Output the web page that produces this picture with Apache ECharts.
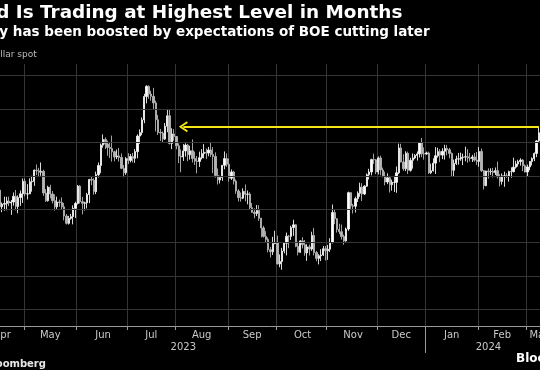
<!DOCTYPE html>
<html><head><meta charset="utf-8">
<script src="https://cdn.jsdelivr.net/npm/echarts@6/dist/echarts.min.js"></script>
<style>html,body{margin:0;padding:0;background:#000;}#c{width:540px;height:370px;}</style>
</head><body><div id="c"></div>
<script>
// ---- data: GBP/USD daily, weekdays from 2023-04-14 to 2024-03-08 ----
const firstDate = '2023-04-14';
const lastDate = '2024-03-08';
const opens = [
1.2514,1.2414,1.2430,1.2434,1.2449,1.2437,1.2443,1.2477,1.2416,1.2470,1.2492,
1.2567,1.2491,1.2492,1.2564,1.2567,1.2634,1.2630,1.2621,1.2627,1.2497,1.2451,1.2532,1.2491,1.2451,1.2414,1.2443,1.2440,1.2414,1.2359,1.2315,1.2345,1.2355,1.2405,
1.2434,1.2538,1.2445,1.2435,1.2438,1.2488,1.2578,1.2574,1.2505,1.2607,1.2662,1.2784,1.2818,1.2790,1.2770,1.2763,1.2744,1.2713,1.2719,1.2710,1.2645,1.2618,
1.2703,1.2692,1.2715,1.2705,1.2745,1.2838,1.2859,1.2935,1.3075,1.3136,1.3090,1.3076,1.3037,1.2936,1.2860,1.2856,1.2820,1.2897,1.2960,1.2794,1.2851,
1.2835,1.2780,1.2718,1.2713,1.2749,1.2784,1.2726,1.2750,1.2703,1.2688,1.2686,1.2708,1.2733,1.2741,1.2736,1.2755,1.2728,1.2716,1.2602,1.2575,1.2590,1.2663,1.2703,
1.2669,1.2586,1.2623,1.2568,1.2509,1.2469,1.2466,1.2507,1.2489,1.2491,1.2409,1.2382,1.2374,1.2392,1.2345,1.2288,1.2237,1.2219,1.2157,1.2145,1.2194,
1.2199,1.2072,1.2087,1.2149,1.2196,1.2238,1.2237,1.2290,1.2306,1.2178,1.2142,1.2210,1.2187,1.2138,1.2174,1.2161,1.2243,1.2140,1.2105,1.2121,1.2125,1.2163,
1.2151,1.2160,1.2200,1.2380,1.2343,1.2279,1.2265,1.2236,1.2210,1.2281,1.2499,1.2420,1.2418,1.2463,1.2495,1.2532,1.2491,1.2538,1.2606,1.2623,1.2697,1.2696,
1.2623,1.2707,1.2635,1.2598,1.2563,1.2588,1.2547,1.2561,1.2561,1.2618,1.2767,1.2683,1.2642,1.2735,1.2633,1.2693,1.2707,1.2722,1.2731,1.2798,1.2732,
1.2731,1.2737,1.2618,1.2630,1.2676,1.2720,1.2745,1.2724,1.2747,1.2764,1.2756,1.2734,1.2633,1.2674,1.2700,1.2702,1.2711,1.2712,1.2714,1.2707,1.2704,1.2713,1.2694,
1.2686,1.2746,1.2631,1.2541,1.2629,1.2624,1.2626,1.2620,1.2631,1.2595,1.2566,1.2600,1.2600,1.2599,1.2625,1.2625,1.2652,1.2671,1.2685,1.2694,1.2660,
1.2623,1.2653,1.2686,1.2703,1.2734,1.2809
];
const highs = [
1.2546,1.2440,1.2475,1.2474,1.2475,1.2455,1.2500,1.2515,1.2483,1.2512,1.2584,
1.2584,1.2550,1.2585,1.2600,1.2638,1.2668,1.2648,1.2680,1.2637,1.2520,1.2540,1.2546,1.2509,1.2488,1.2475,1.2457,1.2471,1.2438,1.2371,1.2360,1.2372,1.2423,1.2444,
1.2545,1.2544,1.2474,1.2445,1.2498,1.2582,1.2597,1.2585,1.2625,1.2680,1.2793,1.2848,1.2830,1.2810,1.2802,1.2841,1.2750,1.2757,1.2767,1.2734,1.2665,1.2712,
1.2735,1.2731,1.2737,1.2760,1.2848,1.2878,1.2950,1.3091,1.3143,1.3142,1.3110,1.3127,1.3050,1.2965,1.2880,1.2866,1.2916,1.2996,1.2997,1.2885,1.2880,
1.2838,1.2795,1.2758,1.2790,1.2795,1.2791,1.2780,1.2818,1.2745,1.2718,1.2745,1.2760,1.2790,1.2763,1.2773,1.2800,1.2772,1.2740,1.2644,1.2600,1.2664,1.2746,1.2734,
1.2704,1.2638,1.2630,1.2578,1.2520,1.2500,1.2525,1.2548,1.2512,1.2502,1.2437,1.2405,1.2425,1.2424,1.2349,1.2300,1.2268,1.2231,1.2174,1.2234,1.2271,
1.2241,1.2129,1.2168,1.2203,1.2260,1.2245,1.2301,1.2337,1.2311,1.2205,1.2215,1.2233,1.2215,1.2190,1.2188,1.2265,1.2288,1.2150,1.2130,1.2160,1.2180,1.2179,
1.2186,1.2226,1.2428,1.2396,1.2346,1.2313,1.2308,1.2247,1.2290,1.2505,1.2502,1.2432,1.2475,1.2507,1.2559,1.2556,1.2544,1.2614,1.2642,1.2702,1.2733,1.2700,
1.2716,1.2721,1.2649,1.2625,1.2615,1.2600,1.2577,1.2600,1.2656,1.2793,1.2792,1.2729,1.2747,1.2745,1.2708,1.2734,1.2730,1.2746,1.2802,1.2827,1.2770,
1.2745,1.2745,1.2673,1.2705,1.2772,1.2768,1.2760,1.2765,1.2786,1.2785,1.2767,1.2740,1.2697,1.2720,1.2737,1.2739,1.2733,1.2775,1.2760,1.2737,1.2725,1.2736,1.2743,
1.2772,1.2763,1.2635,1.2630,1.2645,1.2645,1.2647,1.2650,1.2685,1.2610,1.2614,1.2625,1.2616,1.2631,1.2651,1.2709,1.2690,1.2696,1.2705,1.2700,1.2668,
1.2667,1.2687,1.2710,1.2740,1.2814,1.2894
];
const lows = [
1.2402,1.2382,1.2391,1.2393,1.2418,1.2366,1.2421,1.2393,1.2375,1.2420,1.2437,
1.2477,1.2458,1.2490,1.2505,1.2540,1.2604,1.2593,1.2600,1.2480,1.2444,1.2445,1.2465,1.2435,1.2392,1.2400,1.2414,1.2398,1.2333,1.2308,1.2308,1.2337,1.2309,1.2347,
1.2428,1.2434,1.2369,1.2392,1.2404,1.2436,1.2544,1.2487,1.2490,1.2590,1.2616,1.2768,1.2760,1.2720,1.2707,1.2685,1.2687,1.2700,1.2685,1.2640,1.2591,1.2606,
1.2670,1.2680,1.2680,1.2678,1.2705,1.2791,1.2843,1.2915,1.3034,1.3061,1.3050,1.3001,1.2866,1.2845,1.2809,1.2797,1.2815,1.2861,1.2788,1.2760,1.2810,
1.2759,1.2676,1.2621,1.2689,1.2715,1.2688,1.2697,1.2680,1.2665,1.2615,1.2653,1.2698,1.2705,1.2700,1.2717,1.2713,1.2616,1.2589,1.2548,1.2554,1.2570,1.2639,1.2653,
1.2565,1.2575,1.2548,1.2492,1.2446,1.2445,1.2460,1.2447,1.2429,1.2400,1.2378,1.2346,1.2359,1.2330,1.2231,1.2230,1.2199,1.2141,1.2110,1.2125,1.2190,
1.2069,1.2052,1.2037,1.2136,1.2123,1.2166,1.2215,1.2240,1.2172,1.2123,1.2138,1.2165,1.2121,1.2090,1.2122,1.2150,1.2123,1.2088,1.2069,1.2089,1.2120,1.2093,
1.2096,1.2143,1.2195,1.2310,1.2260,1.2250,1.2218,1.2187,1.2205,1.2270,1.2402,1.2374,1.2380,1.2443,1.2474,1.2449,1.2485,1.2534,1.2578,1.2603,1.2671,1.2610,
1.2608,1.2603,1.2590,1.2543,1.2550,1.2500,1.2511,1.2503,1.2498,1.2610,1.2680,1.2630,1.2628,1.2611,1.2625,1.2643,1.2700,1.2691,1.2710,1.2712,1.2697,
1.2726,1.2611,1.2611,1.2626,1.2611,1.2709,1.2682,1.2700,1.2697,1.2723,1.2705,1.2596,1.2597,1.2665,1.2667,1.2690,1.2664,1.2687,1.2678,1.2685,1.2683,1.2685,1.2665,
1.2654,1.2622,1.2518,1.2538,1.2583,1.2605,1.2590,1.2605,1.2584,1.2536,1.2547,1.2534,1.2588,1.2565,1.2588,1.2620,1.2643,1.2655,1.2661,1.2628,1.2620,
1.2595,1.2633,1.2662,1.2688,1.2712,1.2800
];
const closes = [
1.2414,1.2430,1.2434,1.2449,1.2437,1.2443,1.2477,1.2416,1.2470,1.2492,1.2567,
1.2491,1.2492,1.2564,1.2567,1.2634,1.2630,1.2621,1.2627,1.2497,1.2451,1.2532,1.2491,1.2451,1.2414,1.2443,1.2440,1.2414,1.2359,1.2315,1.2345,1.2355,1.2405,1.2434,
1.2538,1.2445,1.2435,1.2438,1.2488,1.2578,1.2574,1.2505,1.2607,1.2662,1.2784,1.2818,1.2790,1.2770,1.2763,1.2744,1.2713,1.2719,1.2710,1.2645,1.2618,1.2703,
1.2692,1.2715,1.2705,1.2745,1.2838,1.2859,1.2935,1.3075,1.3136,1.3090,1.3076,1.3037,1.2936,1.2860,1.2856,1.2820,1.2897,1.2960,1.2794,1.2851,1.2835,
1.2780,1.2718,1.2713,1.2749,1.2784,1.2726,1.2750,1.2703,1.2688,1.2686,1.2708,1.2733,1.2741,1.2736,1.2755,1.2728,1.2716,1.2602,1.2575,1.2590,1.2663,1.2703,1.2669,
1.2586,1.2623,1.2568,1.2509,1.2469,1.2466,1.2507,1.2489,1.2491,1.2409,1.2382,1.2374,1.2392,1.2345,1.2288,1.2237,1.2219,1.2157,1.2145,1.2194,1.2199,
1.2072,1.2087,1.2149,1.2196,1.2238,1.2237,1.2290,1.2306,1.2178,1.2142,1.2210,1.2187,1.2138,1.2174,1.2161,1.2243,1.2140,1.2105,1.2121,1.2125,1.2163,1.2151,
1.2160,1.2200,1.2380,1.2343,1.2279,1.2265,1.2236,1.2210,1.2281,1.2499,1.2420,1.2418,1.2463,1.2495,1.2532,1.2491,1.2538,1.2606,1.2623,1.2697,1.2696,1.2623,
1.2707,1.2635,1.2598,1.2563,1.2588,1.2547,1.2561,1.2561,1.2618,1.2767,1.2683,1.2642,1.2735,1.2633,1.2693,1.2707,1.2722,1.2731,1.2798,1.2732,1.2731,
1.2737,1.2618,1.2630,1.2676,1.2720,1.2745,1.2724,1.2747,1.2764,1.2756,1.2734,1.2633,1.2674,1.2700,1.2702,1.2711,1.2712,1.2714,1.2707,1.2704,1.2713,1.2694,1.2686,
1.2746,1.2631,1.2541,1.2629,1.2624,1.2626,1.2620,1.2631,1.2595,1.2566,1.2600,1.2600,1.2599,1.2625,1.2625,1.2652,1.2671,1.2685,1.2694,1.2660,1.2623,
1.2653,1.2686,1.2703,1.2734,1.2809,1.2858
];
const gridLevels = [1.18, 1.20, 1.22, 1.24, 1.26, 1.28, 1.30, 1.32];
const monthNames = ['Jan','Feb','Mar','Apr','May','Jun','Jul','Aug','Sep','Oct','Nov','Dec'];
const yearLabelText = {'2023-08-04': '2023', '2024-02-07': '2024'};
const arrowFromDate = '2023-08-04';

// ---- helpers ----
function weekdays(a, b) {
  const out = [];
  let t = Date.parse(a + 'T00:00:00Z');
  const e = Date.parse(b + 'T00:00:00Z');
  while (t <= e) {
    const d = new Date(t);
    const w = d.getUTCDay();
    if (w !== 0 && w !== 6) out.push(d.toISOString().slice(0, 10));
    t += 86400000;
  }
  return out;
}
const dates = weekdays(firstDate, lastDate);
const monthStart = new Set();
const yearStart = new Set([0]);
dates.forEach((d, i) => {
  if (i > 0 && d.slice(0, 7) !== dates[i - 1].slice(0, 7)) monthStart.add(i);
  if (i > 0 && d.slice(0, 4) !== dates[i - 1].slice(0, 4)) yearStart.add(i);
});
// month label: middle weekday of the calendar month (clamped into data)
const labelIdx = new Set();
const seen = {};
dates.forEach((d, i) => {
  const ym = d.slice(0, 7);
  if (seen[ym]) return;
  seen[ym] = true;
  const y = +ym.slice(0, 4), m = +ym.slice(5, 7);
  const lastDay = new Date(Date.UTC(y, m, 0)).getUTCDate();
  const all = weekdays(ym + '-01', ym + '-' + String(lastDay).padStart(2, '0'));
  const mid = all[Math.round((all.length - 1) / 2)];
  let idx = dates.indexOf(mid);
  if (idx < 0) {
    const inMonth = dates.map((x, j) => x.slice(0, 7) === ym ? j : -1).filter(j => j >= 0);
    idx = mid > lastDate ? inMonth[inMonth.length - 1] : inMonth[0];
  }
  labelIdx.add(idx);
});
const candles = dates.map((d, i) => [opens[i], closes[i], lows[i], highs[i]]);
const arrowLevel = highs[highs.length - 1];

const chart = echarts.init(document.getElementById('c'), null, {renderer: 'canvas'});
const axisGray = '#9a9a9a';
const labelGray = '#c9c9c9';
const gridGray = '#363636';
chart.setOption({
  backgroundColor: '#000',
  animation: false,
  grid: {left: -1.3, right: 0, top: 64, bottom: 44, containLabel: false, outerBoundsMode: 'none'},
  xAxis: [{
    type: 'category', data: dates, boundaryGap: true,
    axisLine: {show: true, lineStyle: {color: axisGray, width: 1}},
    axisTick: {show: true, length: 4, interval: (i) => monthStart.has(i), lineStyle: {color: axisGray}},
    axisLabel: {show: true, interval: (i) => labelIdx.has(i), margin: 4,
      formatter: (v) => monthNames[+v.slice(5, 7) - 1],
      color: labelGray, fontSize: 10, fontFamily: 'DejaVu Sans'},
    splitLine: {show: true, interval: (i) => monthStart.has(i), lineStyle: {color: gridGray, width: 1}}
  }, {
    type: 'category', data: dates, boundaryGap: true, position: 'bottom', offset: 0,
    axisLine: {show: false},
    axisTick: {show: true, length: 27, interval: (i) => yearStart.has(i), lineStyle: {color: axisGray}},
    axisLabel: {show: true, interval: (i) => !!yearLabelText[dates[i]], margin: 16,
      formatter: (v) => yearLabelText[v] || '',
      color: labelGray, fontSize: 10, fontFamily: 'DejaVu Sans'},
    splitLine: {show: false}
  }],
  yAxis: {
    type: 'value', min: 1.17, max: 1.327, position: 'right', scale: true,
    axisLine: {show: false}, axisTick: {show: false}, axisLabel: {show: false}, splitLine: {show: false}
  },
  series: [{
    type: 'line', data: [], z: 1, silent: true,
    markLine: {
      silent: true, symbol: 'none', animation: false,
      label: {show: false},
      lineStyle: {color: gridGray, width: 1, type: 'solid'},
      emphasis: {disabled: true},
      data: gridLevels.map(v => ({yAxis: v}))
    }
  }, {
    type: 'candlestick', data: candles, z: 3, barWidth: 1.8,
    itemStyle: {color: '#ffffff', color0: '#b4b4b4', borderColor: '#f0f0f0', borderColor0: '#b4b4b4', borderWidth: 0.9},
    markLine: {
      silent: true, animation: false,
      symbol: ['path://M0,9 L5,0 L10,9 L8.4,10 L5,3.4 L1.6,10 Z', 'none'],
      symbolSize: [11, 9],
      label: {show: false},
      lineStyle: {color: '#f3e516', width: 2, type: 'solid'},
      emphasis: {disabled: true},
      data: [[{coord: [arrowFromDate, arrowLevel]}, {coord: [dates[dates.length - 1], arrowLevel]}]]
    }
  }],
  graphic: [
    {type: 'text', x: -56, y: 4, silent: true, style: {text: 'Pound Is Trading at Highest Level in Months', fill: '#ffffff', font: 'bold 18.4px "DejaVu Sans"'}},
    {type: 'text', x: -91, y: 25, silent: true, style: {text: 'The currency has been boosted by expectations of BOE cutting later', fill: '#ffffff', font: 'bold 13.5px "DejaVu Sans"'}},
    {type: 'text', x: -42, y: 50.5, silent: true, style: {text: 'Pound-dollar spot', fill: '#bdbdbd', font: '9px "DejaVu Sans"'}},
    {type: 'text', x: -61.6, y: 359, silent: true, style: {text: 'Source: Bloomberg', fill: '#e6e6e6', font: 'bold 10px "DejaVu Sans"'}},
    {type: 'text', x: 516, y: 353, silent: true, style: {text: 'Bloomberg', fill: '#ffffff', font: 'bold 12px "DejaVu Sans"'}}
  ]
});
</script>
</body></html>
